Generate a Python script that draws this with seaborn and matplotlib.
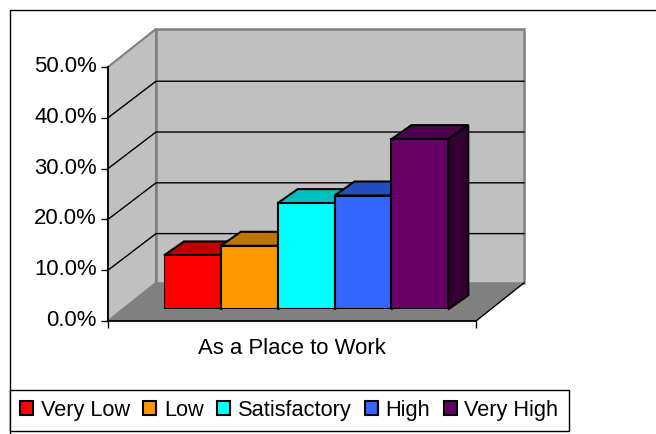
import seaborn as sns
import matplotlib.pyplot as plt
import pandas as pd
from matplotlib.colors import to_rgb
from matplotlib.lines import Line2D
from matplotlib.patches import Polygon
from matplotlib.transforms import ScaledTranslation

# -----------------------------
# 1. Data
# -----------------------------
group = "As a Place to Work"
levels = ["Very Low", "Low", "Satisfactory", "High", "Very High"]
values = [10.6, 12.5, 20.9, 22.4, 33.5]
colors = ["#FF0000", "#FF9900", "#00FFFF", "#3366FF", "#660066"]
y_ticks = [0, 10, 20, 30, 40, 50]

data = pd.DataFrame({"group": group, "level": levels, "value": values})

# -----------------------------
# 2. Figure and layout (pixels)
# -----------------------------
W, H = 656, 434
plt.rcParams["font.family"] = ["Liberation Sans", "DejaVu Sans"]
FONT = 15.9
fig = plt.figure(figsize=(W / 100, H / 100), dpi=100, facecolor="white")


def axes_px(left, right, top, bottom):
    return fig.add_axes([left / W, 1 - bottom / H, (right - left) / W, (bottom - top) / H])


# axes for the walls, front plane of the box
wall = axes_px(108, 476, 67, 321)
wall.set_xlim(0, 368)
wall.set_ylim(0, 50)
wall.patch.set_visible(False)
DX, DY = 48, 7.5  # depth of box
GRID_DY = 7.2  # gridlines land a touch lower on the back wall

# -----------------------------
# 3. Walls and gridlines
# -----------------------------
wall.add_patch(Polygon([(0, 0), (368, 0), (368 + DX, DY), (DX, DY)], fc="#808080", ec="none", clip_on=False))
wall.add_patch(Polygon([(0, 0), (DX, DY), (DX, 50 + DY), (0, 50)], fc="#C0C0C0", ec="#808080", lw=1.5, clip_on=False))
wall.add_patch(Polygon([(DX, DY), (368 + DX, DY), (368 + DX, 50 + DY), (DX, 50 + DY)],
                       fc="#C0C0C0", ec="#808080", lw=1.8, clip_on=False))
wall.plot([368, 368 + DX], [0, DY], color="black", lw=1, clip_on=False)
for t in y_ticks[1:-1]:
    wall.plot([0, DX, 368 + DX], [t, t + GRID_DY, t + GRID_DY], color="black", lw=1, clip_on=False)

wall.set_yticks(y_ticks, [f"{t:.1f}%" for t in y_ticks], fontsize=FONT)
wall.set_xticks([0, 368], ["", ""])
wall.tick_params(axis="both", length=5, width=1, color="black", pad=3)
wall.set_xlabel(group, fontsize=FONT, labelpad=4.3)
wall.spines[["top", "right"]].set_visible(False)
wall.spines[["left", "bottom"]].set_linewidth(1.3)

# tick labels sit a little above their ticks
shift = ScaledTranslation(0, 3 / 100, fig.dpi_scale_trans)
for lab in wall.get_yticklabels():
    lab.set_transform(lab.get_transform() + shift)

# -----------------------------
# 4. Bars
# -----------------------------
ax = axes_px(164, 448.3, 55.3, 309.3)
sns.barplot(data=data, x="group", y="value", hue="level", hue_order=levels, palette=colors,
            width=1, gap=0, edgecolor="black", linewidth=1.5, saturation=1, ax=ax, zorder=5)
ax.set_xlim(-0.5, 0.5)
ax.set_ylim(0, 50)
ax.axis("off")

# top and side faces of every bar, left to right
bar_dx = 20 / (448.3 - 164)
bar_dy = 14 / 5.08
for patch, color in zip(ax.patches, colors):
    x0, x1 = patch.get_x(), patch.get_x() + patch.get_width()
    h = patch.get_height()
    rgb = to_rgb(color)
    ax.add_patch(Polygon([(x0, h), (x1, h), (x1 + bar_dx, h + bar_dy), (x0 + bar_dx, h + bar_dy)],
                         fc=[c * 0.75 for c in rgb], ec="black", lw=1.5, clip_on=False, zorder=3))
    ax.add_patch(Polygon([(x1, 0), (x1 + bar_dx, bar_dy), (x1 + bar_dx, h + bar_dy), (x1, h)],
                         fc=[c * 0.5 for c in rgb], ec="black", lw=1.5, clip_on=False, zorder=3))

# -----------------------------
# 5. Chart border and legend
# -----------------------------
fig.add_artist(Line2D([10 / W, 10 / W, 1], [0, 1 - 9.5 / H, 1 - 9.5 / H], color="black", lw=1))

handles, labels = ax.get_legend_handles_labels()
ax.get_legend().remove()
leg = fig.legend(handles, labels, ncol=5, loc="lower left",
                 bbox_to_anchor=(10 / W, 1 - 431 / H), borderaxespad=0,
                 fontsize=15.7, frameon=True, fancybox=False, framealpha=1, edgecolor="black",
                 handlelength=0.58, handleheight=0.58, handletextpad=0.35, columnspacing=0.635,
                 borderpad=0.47)
leg.get_frame().set_linewidth(1)

plt.savefig("out.png", dpi=100, facecolor="white")
plt.close()
